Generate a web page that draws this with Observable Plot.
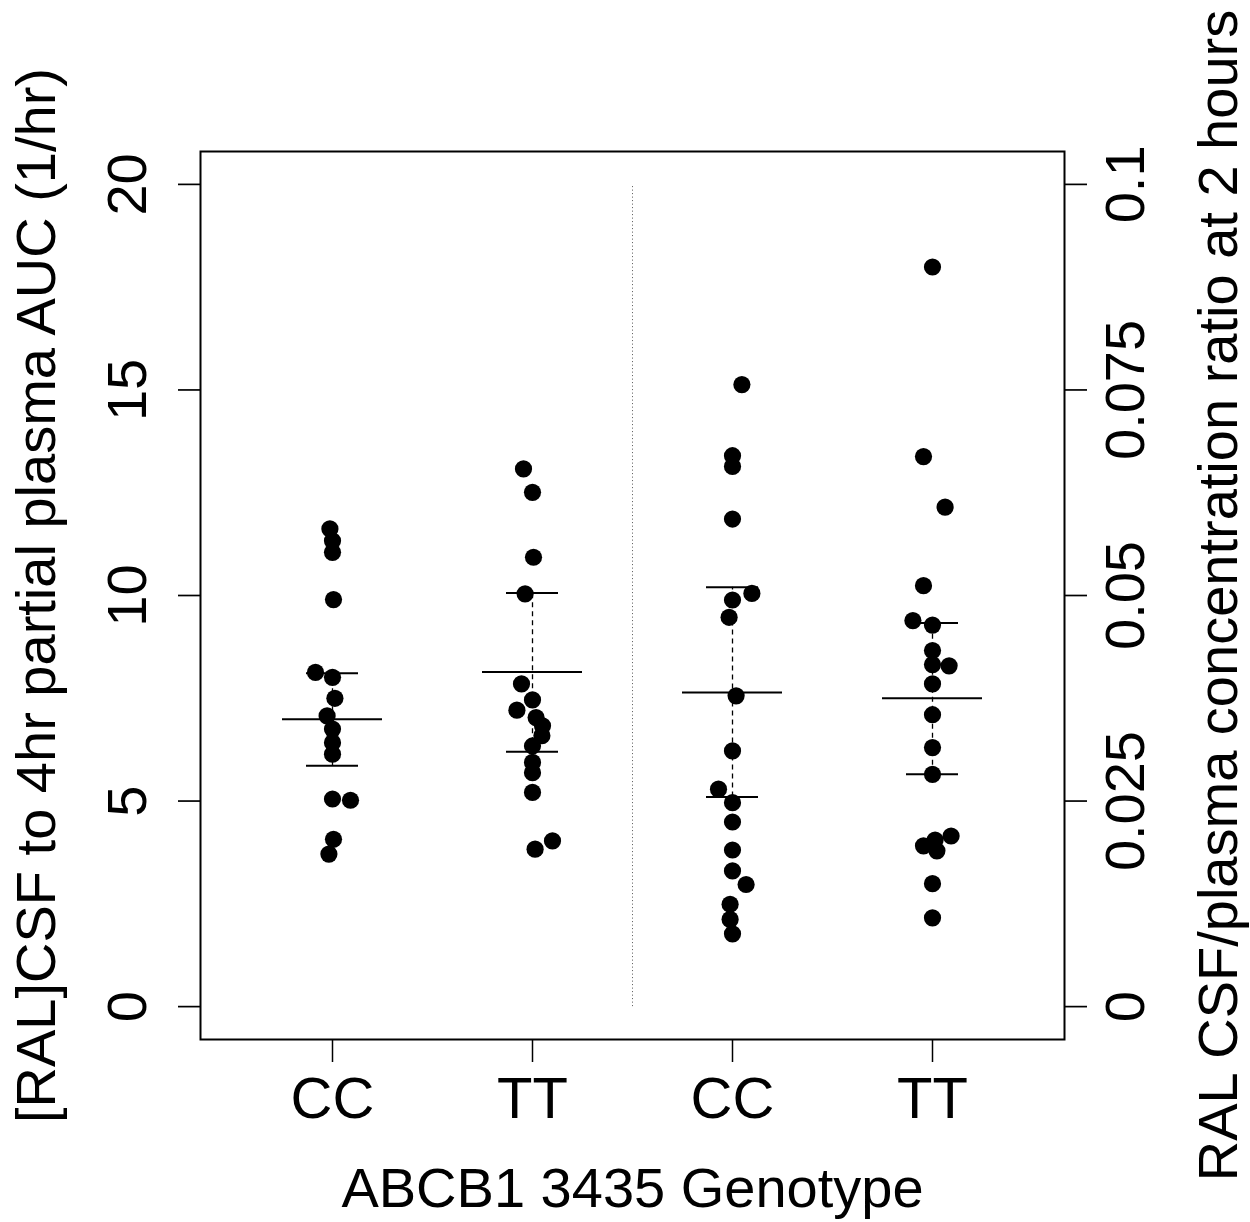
<!DOCTYPE html>
<html>
<head>
<meta charset="utf-8">
<script src="https://cdn.jsdelivr.net/npm/d3@7"></script>
<script src="https://cdn.jsdelivr.net/npm/@observablehq/plot@0.6"></script>
<style>
  html, body { margin: 0; padding: 0; background: #fff; }
</style>
</head>
<body>
<div id="chart"></div>
<script>
// ---- data ----
const groupLabels = ["CC", "TT", "CC", "TT"];
const groupIndex = [1, 2, 3, 4];

// values (left axis units, 1/hr) and small horizontal jitter (in group units)
const g1Values = [11.62, 11.33, 11.05, 9.90, 8.13, 8.01, 7.50, 7.07, 6.75, 6.42, 6.14, 5.05, 5.02, 4.07, 3.71];
const g1Jitter = [-0.013, 0, 0, 0.005, -0.085, 0, 0.012, -0.027, 0, 0, 0, 0, 0.09, 0.005, -0.018];

const g2Values = [13.08, 12.51, 10.93, 10.04, 7.85, 7.46, 7.21, 7.03, 6.83, 6.59, 6.34, 5.94, 5.69, 5.21, 4.03, 3.83];
const g2Jitter = [-0.045, 0, 0.005, -0.037, -0.055, 0, -0.078, 0.018, 0.05, 0.047, 0, 0, 0, 0, 0.1, 0.013];

const g3Values = [15.13, 13.40, 13.14, 11.86, 10.05, 9.89, 9.47, 7.56, 6.22, 5.29, 4.96, 4.49, 3.81, 3.30, 2.97, 2.49, 2.12, 1.77];
const g3Jitter = [0.047, 0, 0, 0, 0.097, 0, -0.017, 0.018, 0, -0.07, 0, 0, 0, 0, 0.068, -0.012, -0.012, 0];

const g4Values = [17.99, 13.38, 12.15, 10.24, 9.39, 9.28, 8.66, 8.32, 8.29, 7.85, 7.10, 6.30, 5.65, 4.15, 4.05, 3.91, 3.79, 2.99, 2.16];
const g4Jitter = [0, -0.045, 0.063, -0.045, -0.098, 0, 0, 0, 0.083, 0, 0, 0, 0, 0.093, 0.013, -0.045, 0.022, 0, 0];

// summary lines per group (centre, lower, upper)
const meanValues  = [6.99, 8.14, 7.64, 7.50];
const lowerValues = [5.86, 6.20, 5.10, 5.65];
const upperValues = [8.11, 10.06, 10.20, 9.33];

const leftTicks = [0, 5, 10, 15, 20];
const rightTicks = [0, 0.025, 0.05, 0.075, 0.1];
const rightTickLabels = ["0", "0.025", "0.05", "0.075", "0.1"];
const ratioToLeft = 200; // 0.1 on the right axis = 20 on the left axis

const xTitle = "ABCB1 3435 Genotype";
const yTitle = "[RAL]CSF to 4hr partial plasma AUC (1/hr)";
const y2Title = "RAL CSF/plasma concentration ratio at 2 hours";

// ---- build tables ----
const valueSets = [g1Values, g2Values, g3Values, g4Values];
const jitterSets = [g1Jitter, g2Jitter, g3Jitter, g4Jitter];
const points = [];
valueSets.forEach((vals, gi) => {
  vals.forEach((v, i) => points.push({g: groupIndex[gi], x: groupIndex[gi] + jitterSets[gi][i], y: v}));
});
const summary = groupIndex.map((g, i) => ({g, mean: meanValues[i], lo: lowerValues[i], hi: upperValues[i]}));

const MEAN_HALF = 0.25, SE_HALF = 0.13;
const FONT = 56;

const chart = Plot.plot({
  width: 1250,
  height: 1222,
  marginLeft: 200,
  marginRight: 186,
  marginTop: 151,
  marginBottom: 183,
  x: {type: "linear", domain: [0.34, 4.66]},
  y: {type: "linear", domain: [-0.8, 20.8]},
  style: {fontFamily: "'Liberation Sans', Arial, Helvetica, sans-serif", background: "#fff", color: "#000"},
  marks: [
    // separator
    Plot.ruleX([2.5], {y1: 0, y2: 20, stroke: "#555", strokeWidth: 1, strokeDasharray: "1,2.5"}),
    // points
    Plot.dot(points, {x: "x", y: "y", r: 8.6, fill: "#000", stroke: "none"}),
    // dashed connectors
    Plot.ruleX(summary, {x: "g", y1: "lo", y2: "hi", stroke: "#000", strokeWidth: 1.3, strokeDasharray: "5,4"}),
    // mean lines
    Plot.ruleY(summary, {y: "mean", x1: d => d.g - MEAN_HALF, x2: d => d.g + MEAN_HALF, stroke: "#000", strokeWidth: 2}),
    // lower/upper lines
    Plot.ruleY(summary, {y: "lo", x1: d => d.g - SE_HALF, x2: d => d.g + SE_HALF, stroke: "#000", strokeWidth: 2}),
    Plot.ruleY(summary, {y: "hi", x1: d => d.g - SE_HALF, x2: d => d.g + SE_HALF, stroke: "#000", strokeWidth: 2}),
    // frame
    Plot.frame({stroke: "#000", strokeWidth: 2}),
    // axes ticks
    Plot.axisY({anchor: "left", ticks: leftTicks, tickSize: 22, tickFormat: () => "", label: null, strokeWidth: 1.7}),
    Plot.axisY({anchor: "right", ticks: rightTicks.map(v => v * ratioToLeft), tickSize: 22, tickFormat: () => "", label: null, strokeWidth: 1.7}),
    Plot.axisX({anchor: "bottom", ticks: groupIndex, tickFormat: d => groupLabels[d - 1], tickSize: 23, tickPadding: 14, fontSize: 58, label: null, strokeWidth: 1.5}),
    // left tick labels
    Plot.text(leftTicks, {y: d => d, text: d => String(d), frameAnchor: "left", dx: -72, rotate: -90, fontSize: FONT, textAnchor: "middle", lineAnchor: "middle", fill: "#000"}),
    // right tick labels
    Plot.text(rightTicks, {y: d => d * ratioToLeft, text: (d, i) => rightTickLabels[i], frameAnchor: "right", dx: 62, rotate: -90, fontSize: FONT, textAnchor: "middle", lineAnchor: "middle", fill: "#000"}),
    // titles
    Plot.text([xTitle], {text: d => d, frameAnchor: "bottom", dy: 150, fontSize: FONT, lineAnchor: "middle", textAnchor: "middle", fill: "#000"}),
    Plot.text([yTitle], {text: d => d, frameAnchor: "left", dx: -163, rotate: -90, fontSize: FONT, lineAnchor: "middle", textAnchor: "middle", fill: "#000"}),
    Plot.text([y2Title], {text: d => d, frameAnchor: "right", dx: 155, rotate: -90, fontSize: FONT, lineAnchor: "middle", textAnchor: "middle", fill: "#000"})
  ]
});
document.getElementById("chart").appendChild(chart);
</script>
</body>
</html>
